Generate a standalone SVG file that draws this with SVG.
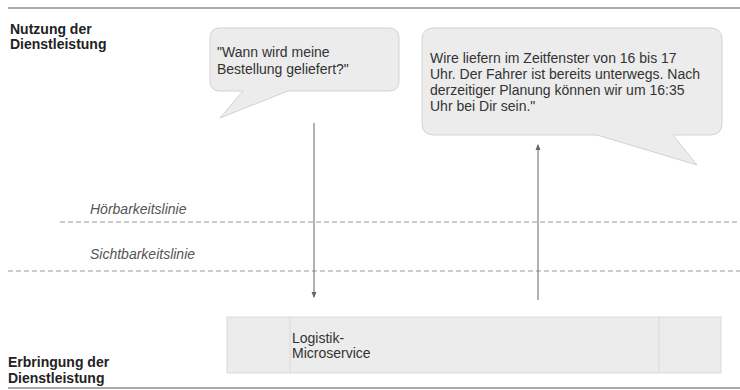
<svg xmlns="http://www.w3.org/2000/svg" width="740" height="390" viewBox="0 0 740 390">
<style>
.lbl{font-family:"Liberation Sans",Arial,sans-serif;font-size:14px;font-weight:bold;fill:#222}
.txt{font-family:"Liberation Sans",Arial,sans-serif;font-size:14px;fill:#333}
.ital{font-family:"Liberation Sans",Arial,sans-serif;font-size:14px;font-style:italic;fill:#555}
.rule{stroke:#aaa;stroke-width:2;fill:none}
.dash{stroke:#999;stroke-width:1.2;stroke-dasharray:5 3;fill:none}
.bubble{fill:#ececec;stroke:#d2d2d2;stroke-width:1}
.box{fill:#ececec;stroke:#dadada;stroke-width:1}
.conn{stroke:#666;stroke-width:1;fill:none}
</style>
<defs>
<marker id="ah" viewBox="0 0 6 6" refX="5" refY="3" markerWidth="6" markerHeight="6" orient="auto" markerUnits="userSpaceOnUse">
<path d="M0,0.5 L6,3 L0,5.5 z" fill="#666"/>
</marker>
</defs>
<g id="lines">
<line class="rule" x1="8" y1="8" x2="740" y2="8"/>
<line class="rule" x1="8" y1="388" x2="740" y2="388"/>
<line class="dash" x1="60" y1="222" x2="740" y2="222"/>
<line class="dash" x1="8" y1="271" x2="740" y2="271"/>
<text class="ital" x="90" y="214">Hörbarkeitslinie</text>
<text class="ital" x="90" y="259">Sichtbarkeitslinie</text>
</g>
<g id="label-nutzung">
<text class="lbl" x="10" y="34">Nutzung der</text>
<text class="lbl" x="10" y="49">Dienstleistung</text>
</g>
<g id="label-erbringung">
<text class="lbl" x="8" y="367">Erbringung der</text>
<text class="lbl" x="8" y="383">Dienstleistung</text>
</g>
<g id="bubble-question">
<path class="bubble" d="M220,28 H389 Q399,28 399,38 V81 Q399,91 389,91 H288 L220,118 L243,91 H220 Q210,91 210,81 V38 Q210,28 220,28 Z"/>
<text class="txt" x="217" y="57">"Wann wird meine</text>
<text class="txt" x="217" y="74">Bestellung geliefert?"</text>
</g>
<g id="bubble-answer">
<path class="bubble" d="M434,28 H710 Q722,28 722,40 V123 Q722,135 710,135 H673 L697,165 L597,135 H434 Q422,135 422,123 V40 Q422,28 434,28 Z"/>
<text class="txt" x="430" y="63">Wire liefern im Zeitfenster von 16 bis 17</text>
<text class="txt" x="430" y="79">Uhr. Der Fahrer ist bereits unterwegs. Nach</text>
<text class="txt" x="430" y="95">derzeitiger Planung können wir um 16:35</text>
<text class="txt" x="430" y="111">Uhr bei Dir sein."</text>
</g>
<g id="logistik">
<rect class="box" x="227" y="317" width="494" height="56"/>
<line class="box" x1="290" y1="317" x2="290" y2="373"/>
<line class="box" x1="659" y1="317" x2="659" y2="373"/>
<text class="txt" x="292" y="343">Logistik-</text>
<text class="txt" x="292" y="358">Microservice</text>
</g>
<g id="connectors">
<line class="conn" x1="314" y1="123" x2="314" y2="297" marker-end="url(#ah)"/>
<line class="conn" x1="538" y1="300" x2="538" y2="145" marker-end="url(#ah)"/>
</g>
</svg>
